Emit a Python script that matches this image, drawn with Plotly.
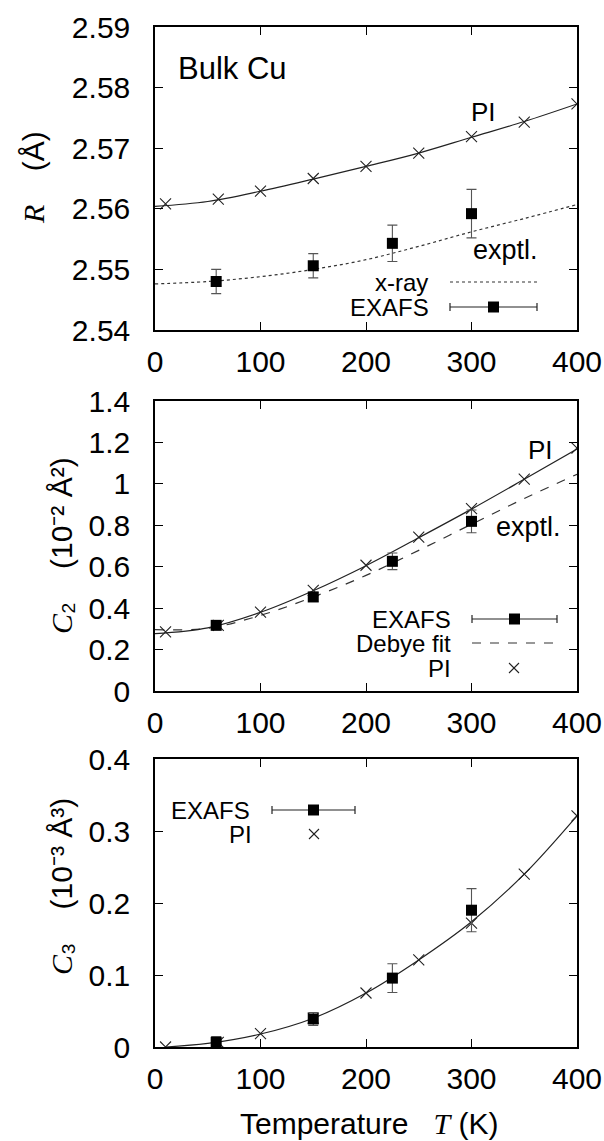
import plotly.graph_objects as go

W, H = 604, 1141

# ---------------- data ----------------
T_pi = [10, 60, 100, 150, 200, 250, 300, 350, 400]
T_exafs = [58, 150, 225, 300]
T_curve = [0, 50, 100, 150, 200, 250, 300, 350, 400]

# Panel 1: R (Å)
R_pi = [2.5608, 2.5616, 2.5629, 2.5650, 2.5670, 2.5692, 2.5719, 2.5743, 2.5773]
R_pi_curve = [2.5604, 2.5612, 2.5629, 2.5649, 2.5670, 2.5692, 2.5718, 2.5744, 2.5773]
R_xray = [2.5476, 2.5480, 2.5488, 2.5500, 2.5516, 2.5538, 2.5562, 2.5584, 2.5607]
R_exafs = [2.5480, 2.5506, 2.5543, 2.5592]
R_exafs_err = [0.0020, 0.0020, 0.0030, 0.0040]

# Panel 2: C2 (1e-2 Å^2)
C2_pi = [0.285, 0.317, 0.381, 0.486, 0.607, 0.743, 0.880, 1.023, 1.173]
C2_pi_curve = [0.277, 0.305, 0.380, 0.484, 0.605, 0.740, 0.878, 1.022, 1.168]
C2_debye = [0.296, 0.303, 0.365, 0.454, 0.558, 0.679, 0.805, 0.929, 1.046]
C2_exafs = [0.317, 0.454, 0.626, 0.819]
C2_exafs_err = [0.020, 0.022, 0.040, 0.055]

# Panel 3: C3 (1e-3 Å^3)
T_c3_curve = [10, 50, 100, 150, 200, 250, 300, 350, 400]
C3_pi = [0.000, 0.0065, 0.0185, 0.040, 0.075, 0.121, 0.172, 0.240, 0.321]
C3_pi_curve = [0.000, 0.005, 0.018, 0.040, 0.075, 0.121, 0.174, 0.240, 0.321]
C3_exafs = [0.0065, 0.039, 0.0957, 0.190]
C3_exafs_err = [0.008, 0.009, 0.020, 0.030]

x_ticks = [0, 100, 200, 300, 400]

FONT = "Liberation Sans, Arial, sans-serif"
SERIF = "Liberation Serif"

fig = go.Figure()


def px(x):
    return x / W


def py(y):
    return 1 - y / H


def add_panel(k, curve_T, curve_y, pi_y, exafs_y, exafs_err, extra_T=None, extra_y=None, extra_dash=None):
    xa = "x" if k == 1 else f"x{k}"
    ya = "y" if k == 1 else f"y{k}"
    if extra_T is not None:
        fig.add_trace(go.Scatter(x=extra_T, y=extra_y, mode="lines", line_shape="spline",
                                 line=dict(color="#333", width=1.2, dash=extra_dash),
                                 xaxis=xa, yaxis=ya, showlegend=False, hoverinfo="skip"))
    fig.add_trace(go.Scatter(x=curve_T, y=curve_y, mode="lines", line_shape="spline",
                             line=dict(color="#222", width=1.2),
                             xaxis=xa, yaxis=ya, showlegend=False, hoverinfo="skip"))
    fig.add_trace(go.Scatter(x=T_pi, y=pi_y, mode="markers",
                             marker=dict(symbol="x-thin-open", size=11, color="#222",
                                         line=dict(width=1.1, color="#222")),
                             xaxis=xa, yaxis=ya, showlegend=False))
    fig.add_trace(go.Scatter(x=T_exafs, y=exafs_y, mode="markers",
                             marker=dict(symbol="square", size=11, color="black"),
                             error_y=dict(type="data", array=exafs_err, color="#555",
                                          thickness=1.1, width=5),
                             xaxis=xa, yaxis=ya, showlegend=False))


add_panel(1, T_curve, R_pi_curve, R_pi, R_exafs, R_exafs_err, T_curve, R_xray, "dot")
add_panel(2, T_curve, C2_pi_curve, C2_pi, C2_exafs, C2_exafs_err, T_curve, C2_debye, "dash")
add_panel(3, T_c3_curve, C3_pi_curve, C3_pi, C3_exafs, C3_exafs_err)

xdom = [155 / W, 577 / W]
doms = [[py(330), py(27)], [py(691), py(401)], [py(1047), py(759)]]
yranges = [[2.54, 2.59], [0, 1.4], [0, 0.4]]
ydt = [0.01, 0.2, 0.1]

axcommon = dict(showgrid=False, zeroline=False, showline=True, linecolor="black", linewidth=1.5,
                mirror="ticks", ticks="inside", ticklen=8, tickwidth=1.3, tickcolor="black",
                automargin=False,
                tickfont=dict(family=FONT, size=30, color="black"))

layout = dict(template="none", width=W, height=H, margin=dict(l=0, r=0, t=0, b=0, pad=0),
              autosize=False,
              paper_bgcolor="white", plot_bgcolor="white", showlegend=False)
for i in range(3):
    n = "" if i == 0 else str(i + 1)
    layout[f"xaxis{n}"] = dict(domain=xdom, range=[0, 400], tickvals=x_ticks,
                               anchor=f"y{n}", ticklabelstandoff=4, **axcommon)
    layout[f"yaxis{n}"] = dict(domain=doms[i], range=yranges[i], dtick=ydt[i], tick0=0,
                               anchor=f"x{n}", ticklabelstandoff=17, **axcommon)
fig.update_layout(**layout)

ann = []
shapes = []


def text(x, y, s, size=25, xanchor="center", angle=0):
    ann.append(dict(x=px(x), y=py(y), xref="paper", yref="paper", text=s, showarrow=False,
                    xanchor=xanchor, yanchor="middle", textangle=angle, borderpad=0,
                    font=dict(family=FONT, size=size, color="black")))


def hline(x1, x2, y, dash="solid", color="#222", width=1.2):
    shapes.append(dict(type="line", xref="paper", yref="paper", x0=px(x1), x1=px(x2), y0=py(y), y1=py(y),
                       line=dict(color=color, width=width, dash=dash)))


def vline(x, y1, y2, color="#222", width=1.2):
    shapes.append(dict(type="line", xref="paper", yref="paper", x0=px(x), x1=px(x), y0=py(y1), y1=py(y2),
                       line=dict(color=color, width=width)))


def square(x, y, s=5.5):
    shapes.append(dict(type="rect", xref="paper", yref="paper", x0=px(x - s), x1=px(x + s),
                       y0=py(y + s), y1=py(y - s), fillcolor="black", line=dict(width=0)))


def cross(x, y, s=5):
    shapes.append(dict(type="line", xref="paper", yref="paper", x0=px(x - s), x1=px(x + s),
                       y0=py(y - s), y1=py(y + s), line=dict(color="#222", width=1.1)))
    shapes.append(dict(type="line", xref="paper", yref="paper", x0=px(x - s), x1=px(x + s),
                       y0=py(y + s), y1=py(y - s), line=dict(color="#222", width=1.1)))


def exafs_key(x1, x2, y):
    hline(x1, x2, y)
    vline(x1, y - 4, y + 4)
    vline(x2, y - 4, y + 4)
    square((x1 + x2) / 2, y)


# panel 1 annotations and key
text(177, 68, "Bulk Cu", size=31, xanchor="left")
text(483, 112, "PI", size=26)
text(505, 250, "exptl.", size=27)
text(429, 282, "x-ray", size=24, xanchor="right")
hline(450, 537, 282, dash="dot", color="#333")
text(430, 307, "EXAFS", size=24, xanchor="right")
exafs_key(450, 537, 307)

# panel 2
text(540, 450, "PI", size=26)
text(528, 527, "exptl.", size=27)
text(452, 619, "EXAFS", size=24, xanchor="right")
exafs_key(472, 557, 619)
text(452, 643, "Debye fit", size=24, xanchor="right")
hline(472, 557, 643, dash="dash", color="#333")
text(452, 668, "PI", size=24, xanchor="right")
cross(514, 668)

# panel 3
text(251, 810, "EXAFS", size=24, xanchor="right")
exafs_key(272, 355, 810)
text(253, 834, "PI", size=24, xanchor="right")
cross(314, 834)


# axis titles
def it(s):
    return f"<span style='font-family:{SERIF}'><i>{s}</i></span>"


SP = "\u00a0"
text(33, 178, it("R") + SP * 4 + "(Å)", size=30, angle=-90)
text(61, 546, it("C") + "₂" + SP * 4 + "(10⁻² Å²)", size=30, angle=-90)
text(61, 887, it("C") + "₃" + SP * 4 + "(10⁻³ Å³)", size=30, angle=-90)
text(369, 1123, "Temperature" + SP * 3 + it("T") + SP + "(K)", size=30)

fig.update_layout(annotations=ann, shapes=shapes)
fig.write_html("out.html")
